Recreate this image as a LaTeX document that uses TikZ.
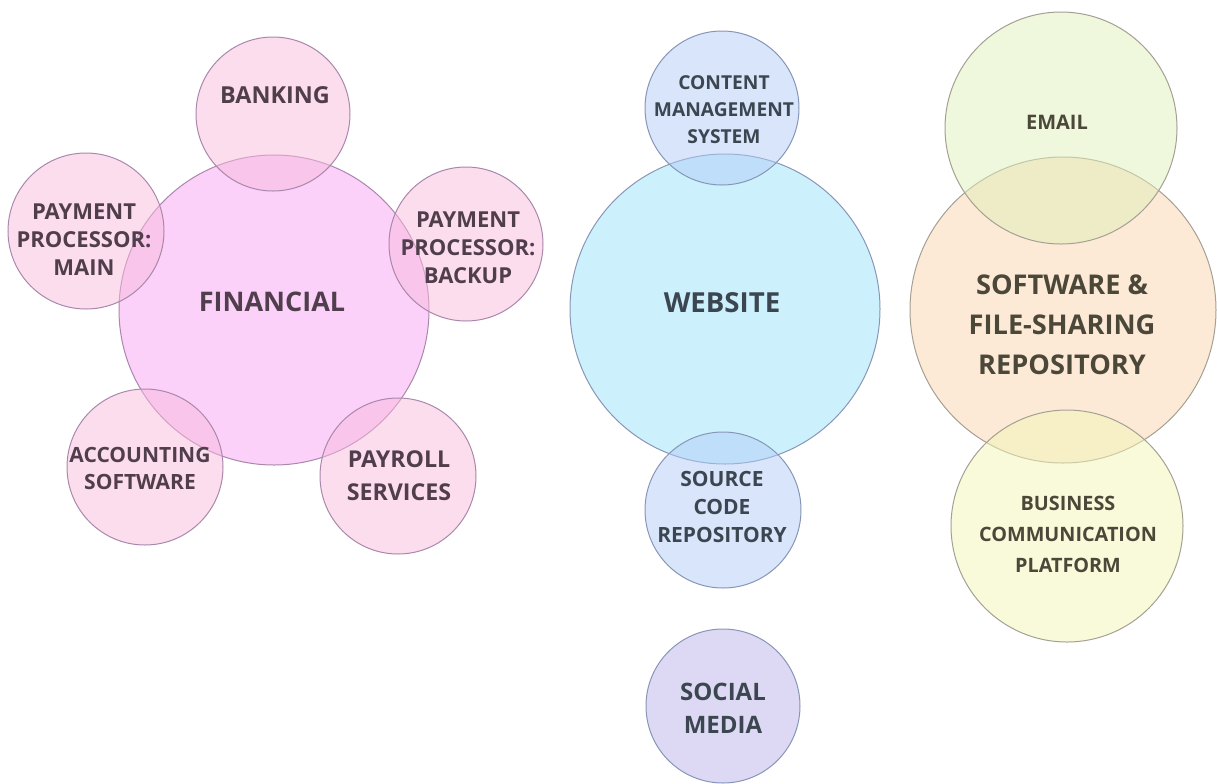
\documentclass[tikz,border=0pt]{standalone}
\usepackage{fontspec}
\setmainfont{Open Sans}
\usetikzlibrary{calc}
\definecolor{finbig}{RGB}{247,161,243}
\definecolor{finsmall}{RGB}{249,187,221}
\definecolor{webbig}{RGB}{155,227,250}
\definecolor{websmall}{RGB}{178,203,246}
\definecolor{social}{RGB}{187,179,236}
\definecolor{mailc}{RGB}{223,239,185}
\definecolor{softc}{RGB}{249,213,173}
\definecolor{busc}{RGB}{243,245,181}
\definecolor{finline}{RGB}{170,135,172}
\definecolor{webline}{RGB}{135,150,182}
\definecolor{softline}{RGB}{165,160,148}
\definecolor{fintext}{RGB}{80,62,76}
\definecolor{webtext}{RGB}{60,70,80}
\definecolor{softtext}{RGB}{75,72,58}
\tikzset{
bubble/.style = {circle,inner sep=0pt,line width=0.5pt,fill opacity=0.5,draw opacity=1},
tag/.style = {align=center,inner sep=0pt,font=\bfseries}
}

\begin{document}
\begin{tikzpicture}[x=0.5pt,y=-0.5pt]
%
\useasboundingbox (0,0) rectangle (1217,783);
%
\def\biglist{financial/274/310/155/finbig/finline,website/725/309/155/webbig/webline,software/1063/310/153/softc/softline}
\def\smalllist{banking/273/114/77/finsmall/finline,ppmain/86/231/78/finsmall/finline,ppbackup/466/244/77/finsmall/finline,accounting/145/467/78/finsmall/finline,payroll/398/476/78/finsmall/finline,cms/722/108/77/websmall/webline,source/723/510/78/websmall/webline,socialmedia/723/706/77/social/webline,email/1061/128/116/mailc/softline,business/1067/526/116/busc/softline}
%
\foreach \n/\x/\y/\r/\c/\l in \biglist {
\node[bubble,minimum size=\r pt,fill=\c,draw=\l] (\n) at (\x,\y) {};
}
\foreach \n/\x/\y/\r/\c/\l in \smalllist {
\node[bubble,minimum size=\r pt,fill=\c,draw=\l] (\n) at (\x,\y) {};
}
%
\def\taglist{
financial/272/302/13.5/16/fintext/{FINANCIAL},
banking/275/95/11.7/14/fintext/{BANKING},
ppmain/84/240/11/14/fintext/{PAYMENT\\PROCESSOR:\\MAIN},
ppbackup/468/248/11/14/fintext/{PAYMENT\\PROCESSOR:\\BACKUP},
accounting/140/468/10.5/13.5/fintext/{ACCOUNTING\\SOFTWARE},
payroll/399/476/11.6/16.5/fintext/{PAYROLL\\SERVICES},
website/722/303/13.8/16/webtext/{WEBSITE},
cms/724/110/9.6/13.5/webtext/{CONTENT\\MANAGEMENT\\SYSTEM},
source/722/507/10.5/14/webtext/{SOURCE\\CODE\\REPOSITORY},
socialmedia/723/708/12/16.5/webtext/{SOCIAL\\MEDIA},
email/1057/122/10/12/softtext/{EMAIL},
software/1062/325/13.6/20/softtext/{SOFTWARE \&\\FILE-SHARING\\REPOSITORY},
business/1068/534/9.9/15.5/softtext/{BUSINESS\\COMMUNICATION\\PLATFORM}}
%
\foreach \n/\x/\y/\s/\b/\c/\t in \taglist {
\node[tag,text=\c,font=\fontsize{\s}{\b}\selectfont\bfseries] (\n-tag) at (\x,\y) {\t};
}
%
\end{tikzpicture}
\end{document}
